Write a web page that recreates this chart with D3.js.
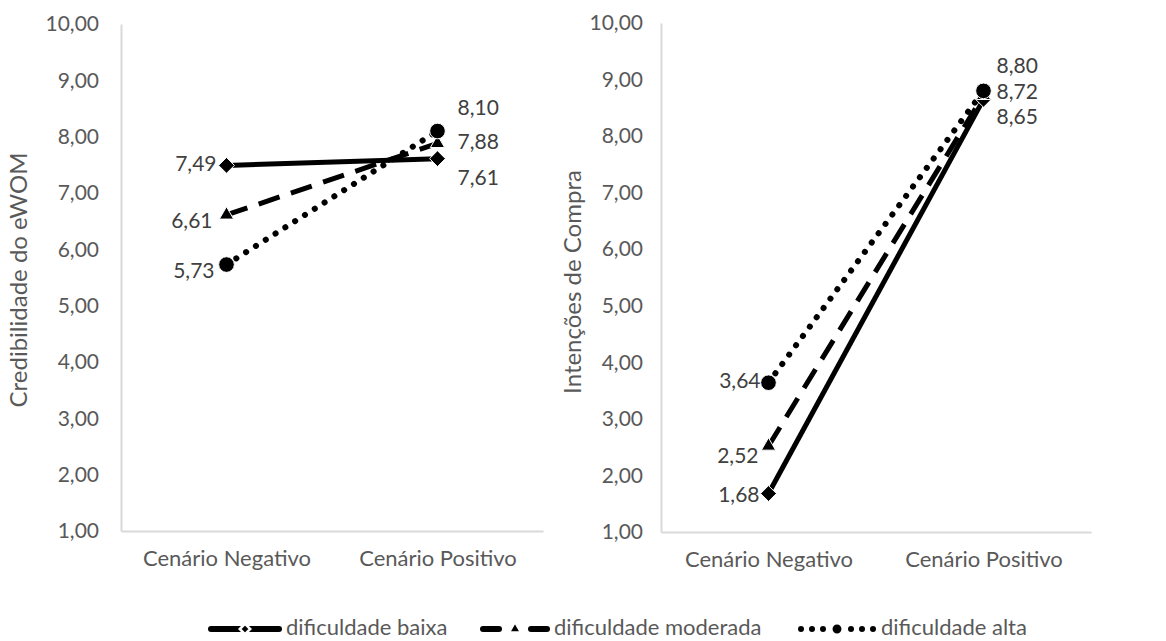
<!DOCTYPE html>
<html>
<head>
<meta charset="utf-8">
<script src="https://cdn.jsdelivr.net/npm/d3@7"></script>
<style>
  body { margin: 0; background: #fff; }
  svg text { font-family: Lato, "Open Sans", sans-serif; }
</style>
</head>
<body>
<svg id="chart" width="1166" height="641"></svg>
<script>
// categories and series
var categories = ["Cenário Negativo", "Cenário Positivo"];
var seriesNames = ["dificuldade baixa", "dificuldade moderada", "dificuldade alta"];

// left panel: Credibilidade do eWOM
var credBaixa = [7.49, 7.61];
var credModerada = [6.61, 7.88];
var credAlta = [5.73, 8.10];

// right panel: Intenções de Compra
var compraBaixa = [1.68, 8.65];
var compraModerada = [2.52, 8.72];
var compraAlta = [3.64, 8.80];

var yTicks = [1, 2, 3, 4, 5, 6, 7, 8, 9, 10];

var fmt = function(v) { return d3.format(".2f")(v).replace(".", ","); };

var svg = d3.select("#chart");
var grey = "#595959";

// line styles per series
var styles = [
  {dash: null, cap: "butt", width: 5, marker: "diamond"},
  {dash: "22 12", cap: "butt", width: 5, marker: "triangle"},
  {dash: "0.1 11.5", cap: "round", width: 6, marker: "circle"}
];

function markerPath(type, size) {
  if (type == "diamond") return d3.symbol().type(d3.symbolDiamond2).size(size)();
  if (type == "triangle") return d3.symbol().type(d3.symbolTriangle).size(size * 0.55)();
  return d3.symbol().type(d3.symbolCircle).size(size * 1.2)();
}

function drawPanel(opts) {
  var x = d3.scalePoint().domain(categories).range(opts.xRange).padding(0.5);
  var y = d3.scaleLinear().domain([1, 10]).range(opts.yRange);

  var g = svg.append("g");

  // axes
  var yAxis = g.append("g")
    .attr("transform", "translate(" + opts.xRange[0] + ",0)")
    .call(d3.axisLeft(y).tickValues(yTicks).tickSize(0).tickPadding(opts.tickPad).tickFormat(fmt));
  yAxis.select(".domain").attr("stroke", "#d9d9d9").attr("stroke-width", 2);
  yAxis.selectAll("text").attr("fill", grey).style("font-size", "21px");

  var xAxis = g.append("g")
    .attr("transform", "translate(0," + opts.yRange[0] + ")")
    .call(d3.axisBottom(x).tickSize(0).tickPadding(19));
  xAxis.select(".domain").attr("stroke", "#d9d9d9").attr("stroke-width", 2);
  xAxis.selectAll("text").attr("fill", grey).style("font-size", "22px");

  // axis title
  g.append("text")
    .attr("transform", "translate(" + opts.titleX + "," + opts.titleY + ") rotate(-90)")
    .attr("text-anchor", "middle")
    .attr("dominant-baseline", "middle")
    .attr("fill", grey)
    .style("font-size", "24px")
    .text(opts.title);

  var line = d3.line()
    .x(function(d, i) { return x(categories[i]); })
    .y(function(d) { return y(d); });

  opts.series.forEach(function(vals, s) {
    var st = styles[s];
    g.append("path")
      .datum(vals)
      .attr("fill", "none")
      .attr("stroke", "#000")
      .attr("stroke-width", st.width)
      .attr("stroke-linecap", st.cap)
      .attr("stroke-dasharray", st.dash)
      .attr("d", line);
  });

  opts.series.forEach(function(vals, s) {
    var st = styles[s];
    vals.forEach(function(v, i) {
      g.append("path")
        .attr("d", markerPath(st.marker, 160))
        .attr("transform", "translate(" + x(categories[i]) + "," + y(v) + ")")
        .attr("fill", "#000")
        .attr("stroke", "#fff")
        .attr("stroke-width", 1);
    });
  });

  // data labels
  opts.series.forEach(function(vals, s) {
    vals.forEach(function(v, i) {
      var off = opts.labelOffsets[s][i];
      g.append("text")
        .attr("x", x(categories[i]) + off[0])
        .attr("y", y(v) + off[1])
        .attr("text-anchor", i == 0 ? "end" : "start")
        .attr("dominant-baseline", "middle")
        .attr("fill", "#404040")
        .style("font-size", "21px")
        .text(fmt(v));
    });
  });
}

drawPanel({
  xRange: [121, 543],
  yRange: [531, 24],
  tickPad: 22,
  title: "Credibilidade do eWOM",
  titleX: 21, titleY: 280,
  series: [credBaixa, credModerada, credAlta],
  labelOffsets: [
    [[-10, 0], [20, 21]],
    [[-14, 8], [20, 0]],
    [[-12, 8], [20, -21]]
  ]
});

drawPanel({
  xRange: [661, 1091],
  yRange: [532, 23],
  tickPad: 18,
  title: "Intenções de Compra",
  titleX: 575, titleY: 282,
  series: [compraBaixa, compraModerada, compraAlta],
  labelOffsets: [
    [[-9, 3], [13, 19]],
    [[-10, 12], [13, -2]],
    [[-8, 0], [13, -23]]
  ]
});

// legend
var legendY = 629;
var legendItems = [
  {x0: 208, x1: 282},
  {x0: 480, x1: 550},
  {x0: 797, x1: 877}
];
var legend = svg.append("g");
seriesNames.forEach(function(name, s) {
  var it = legendItems[s], st = styles[s];
  var mid = (it.x0 + it.x1) / 2;
  if (s == 1) {
    // two short dashes with the marker between
    [[it.x0 + 3, it.x0 + 19], [it.x1 - 19, it.x1 - 3]].forEach(function(seg) {
      legend.append("line")
        .attr("x1", seg[0]).attr("x2", seg[1])
        .attr("y1", legendY).attr("y2", legendY)
        .attr("stroke", "#000").attr("stroke-width", 6)
        .attr("stroke-linecap", "round");
    });
  } else if (s == 2) {
    // dots either side of the marker
    [mid - 36, mid - 25, mid - 14, mid + 14, mid + 25, mid + 36].forEach(function(cx) {
      legend.append("circle")
        .attr("cx", cx).attr("cy", legendY).attr("r", 3)
        .attr("fill", "#000");
    });
  } else {
    legend.append("line")
      .attr("x1", it.x0 + 3).attr("x2", it.x1 - 3)
      .attr("y1", legendY).attr("y2", legendY)
      .attr("stroke", "#000")
      .attr("stroke-width", 6)
      .attr("stroke-linecap", "round");
  }
  legend.append("path")
    .attr("d", markerPath(st.marker, s == 1 ? 120 : (s == 2 ? 85 : 70)))
    .attr("transform", "translate(" + mid + "," + legendY + ")")
    .attr("fill", "#000")
    .attr("stroke", "#fff")
    .attr("stroke-width", 2.5);
  legend.append("text")
    .attr("x", it.x1 + 4)
    .attr("y", legendY)
    .attr("dominant-baseline", "middle")
    .attr("fill", grey)
    .style("font-size", "22px")
    .text(name);
});
</script>
</body>
</html>
